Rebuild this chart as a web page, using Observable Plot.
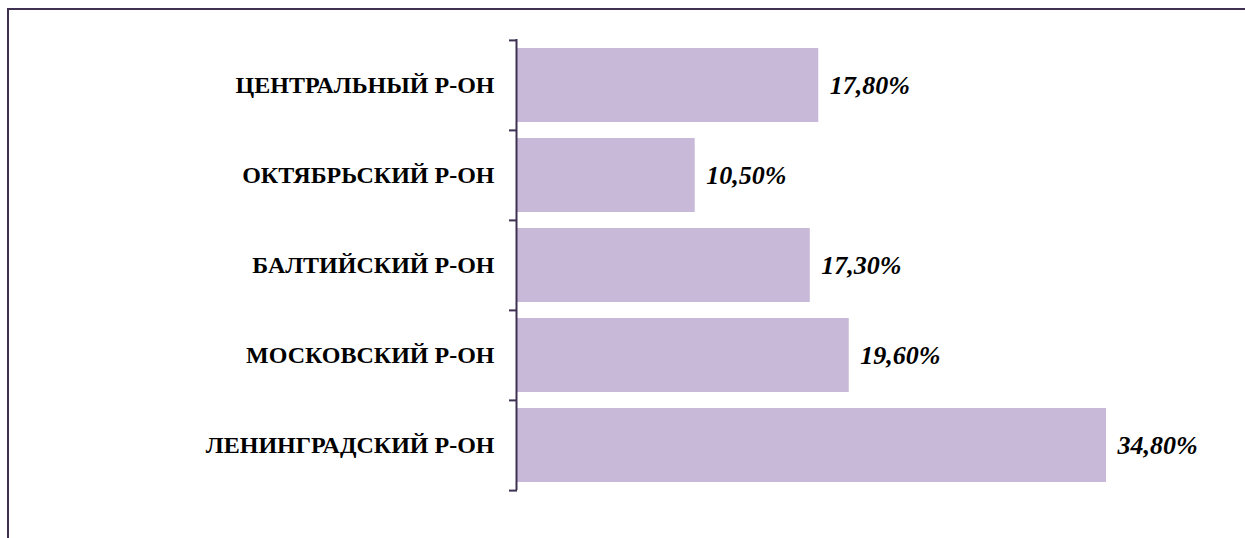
<!DOCTYPE html>
<html>
<head>
<meta charset="utf-8">
<script src="https://cdn.jsdelivr.net/npm/d3@7"></script>
<script src="https://cdn.jsdelivr.net/npm/@observablehq/plot@0.6"></script>
<style>
  html, body { margin: 0; padding: 0; background: #fff; overflow: hidden; }
  #wrap { position: relative; width: 1245px; height: 538px; overflow: hidden; }
  #frame { position: absolute; left: 7px; top: 8px; width: 1300px; height: 600px;
           border: 2px solid #3f3151; pointer-events: none; }
</style>
</head>
<body>
<div id="wrap"><div id="frame"></div></div>
<script>
const categories = ["ЦЕНТРАЛЬНЫЙ Р-ОН", "ОКТЯБРЬСКИЙ Р-ОН", "БАЛТИЙСКИЙ Р-ОН", "МОСКОВСКИЙ Р-ОН", "ЛЕНИНГРАДСКИЙ Р-ОН"];
const values = [17.8, 10.5, 17.3, 19.6, 34.8];

const data = categories.map((c, i) => ({ category: c, value: values[i] }));
const fmt = v => v.toFixed(2).replace(".", ",") + "%";

const width = 1245, height = 538;
const marginTop = 39, marginBottom = 48;
const step = (height - marginTop - marginBottom) / categories.length;
const axisColor = "#3f3151";

const chart = Plot.plot({
  width, height,
  marginTop, marginBottom,
  marginLeft: 517, marginRight: 51,
  style: { background: "transparent", overflow: "visible" },
  x: { domain: [0, 40], axis: null },
  y: { domain: categories, paddingInner: 0.18, paddingOuter: 0.09, label: null },
  marks: [
    Plot.barX(data, { x: "value", y: "category", fill: "#c9b9d8" }),
    Plot.axisY({ tickSize: 0, tickPadding: 23, fontSize: 24, fontWeight: "bold",
                 fontFamily: "Liberation Serif", fill: "#000", label: null }),
    Plot.ruleX([0], { stroke: axisColor, strokeWidth: 2, dx: -1 }),
    Plot.ruleY(categories, { y: d => d, x1: 0, x2: 0, insetLeft: -8, stroke: axisColor, strokeWidth: 2, dy: -step / 2 }),
    Plot.ruleY(categories.slice(-1), { y: d => d, x1: 0, x2: 0, insetLeft: -8, stroke: axisColor, strokeWidth: 2, dy: step / 2 }),
    Plot.text(data, { x: "value", y: "category", text: d => fmt(d.value), dx: 11,
                      textAnchor: "start", fontSize: 26, fontWeight: "bold", fontStyle: "italic",
                      fontFamily: "Liberation Serif", fill: "#000" })
  ]
});
document.getElementById("wrap").prepend(chart);
chart.style.position = "absolute";
chart.style.left = "0";
chart.style.top = "0";
</script>
</body>
</html>
